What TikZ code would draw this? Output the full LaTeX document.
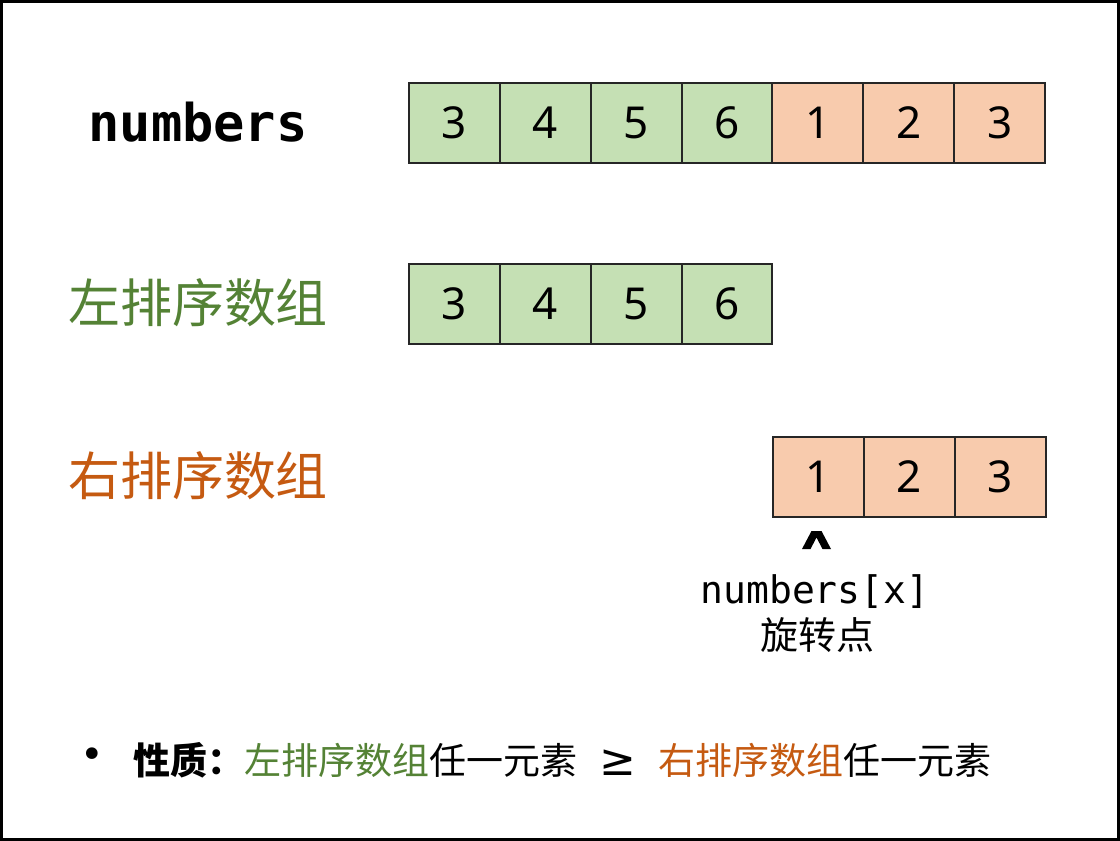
\documentclass[tikz,border=0pt]{standalone}
\usepackage{fontspec}
\setmainfont{Noto Sans}
\newfontfamily\cjk{Noto Sans CJK SC}
\newfontfamily\dmono{DejaVu Sans Mono}
\newfontfamily\dsans{DejaVu Sans}
\definecolor{cellgreen}{HTML}{C5E0B4}
\definecolor{cellorange}{HTML}{F8CBAD}
\definecolor{txtgreen}{HTML}{548235}
\definecolor{txtorange}{HTML}{C55A11}
\definecolor{cellline}{HTML}{262626}
\begin{document}
\begin{tikzpicture}[x=1pt,y=-1pt,
  cell/.style={draw=cellline, line width=2pt, minimum width=90.86pt, minimum height=80pt,
    inner sep=0pt, anchor=north west, font=\fontsize{44}{50}\selectfont},
  gcell/.style={cell, fill=cellgreen},
  ocell/.style={cell, fill=cellorange},
  rowlabel/.style={inner sep=0pt, anchor=center, font=\cjk\fontsize{52}{60}\selectfont}]
\useasboundingbox (0,0) rectangle (1120,841);
\draw[line width=3pt] (1.5,1.5) rectangle (1118.5,839.5);

% top row
\foreach \v [count=\i] in {3,4,5,6} {
  \node[gcell] (t\i) at ({408+(\i-1)*90.86},82) {\v};
}
\foreach \v [count=\i from 5] in {1,2,3} {
  \node[ocell] (t\i) at ({408+(\i-1)*90.86},82) {\v};
}
% left sorted
\foreach \v [count=\i] in {3,4,5,6} {
  \node[gcell] (l\i) at ({408+(\i-1)*90.86},263) {\v};
}
% right sorted
\foreach \v [count=\i] in {1,2,3} {
  \node[ocell] (r\i) at ({772+(\i-1)*90.86},436) {\v};
}

\node[inner sep=0pt, font=\dmono\bfseries\fontsize{52}{60}\selectfont] (lab1) at (198,122) {numbers};
\node[rowlabel, text=txtgreen] (lab2) at (198,303) {左排序数组};
\node[rowlabel, text=txtorange] (lab3) at (198,476) {右排序数组};

% caret mark under the pivot
\fill (802,549) -- (811.5,531) -- (821.5,531) -- (831,549) -- (822.5,549) -- (816.5,537.5) -- (810.5,549) -- cycle;
\node[inner sep=0pt, font=\dmono\fontsize{38}{44}\selectfont] (pivot) at (815,592) {numbers[x]};
\node[inner sep=0pt, font=\cjk\fontsize{38}{44}\selectfont] (pivotlab) at (817,635) {旋转点};

\node[inner sep=0pt, font=\dsans\fontsize{40}{44}\selectfont] (bullet) at (92,758) {•};
\node[inner sep=0pt, anchor=west, font=\cjk\fontsize{37}{44}\selectfont] (prop) at (133,760)
  {{\bfseries 性质：}\textcolor{txtgreen}{左排序数组}任一元素\makebox[81pt]{\dsans\fontsize{44}{44}\selectfont\raisebox{-1pt}{≥}}\textcolor{txtorange}{右排序数组}任一元素};
\end{tikzpicture}
\end{document}
